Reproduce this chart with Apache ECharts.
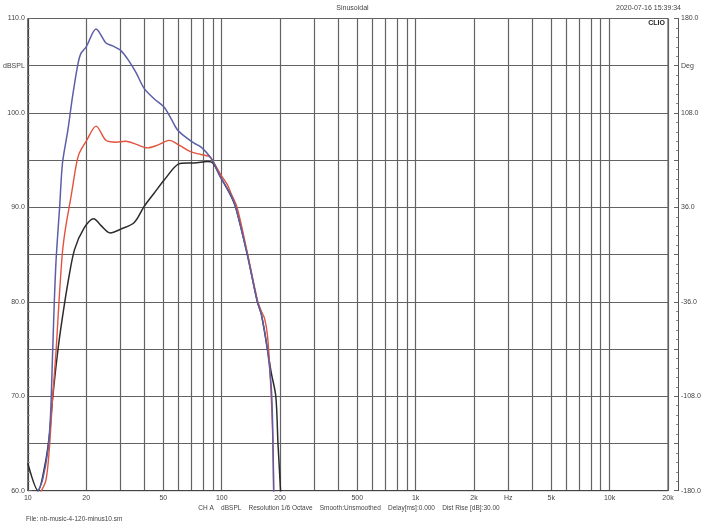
<!DOCTYPE html>
<html>
<head>
<meta charset="utf-8">
<script src="https://cdn.jsdelivr.net/npm/echarts@6/dist/echarts.min.js"></script>
<style>
html,body{margin:0;padding:0;background:#fff;}
#chart{width:705px;height:528px;}
</style>
</head>
<body>
<div id="chart"></div>
<script>
// ---- data ----
const blueFreq = [11.2,11.9,12.7,13.1,13.4,13.7,14.0,14.6,15.1,16.1,17.0,18.1,18.8,20,22.5,25.3,27.4,30.2,33,36.1,39.8,44.8,50.5,54.8,59.2,66.5,72,78,86,89.5,98.6,111,118,135.5,152.7,160,172,180,183,185,186];
const blueDb   = [59.8,61.1,64.3,68,74,80,84.5,90.1,94.7,98.2,101.7,105.1,106.3,107,108.9,107.4,107.1,106.6,105.6,104.3,102.6,101.5,100.6,99.4,98.2,97.3,96.8,96.4,95.5,95.0,93.2,91.4,90,85,80,78.7,75,71,67,61,55];

const redFreq = [11.6,12.4,12.9,13.4,14.0,14.5,15.1,15.7,16.7,17.7,18.4,20,22.5,25.3,28.4,32,36,41.4,46.7,53.6,60.3,69,78,86,89.5,98.6,107,111,120,135.5,152.7,160,166,172,178,183,186];
const redDb   = [59.8,61.1,64.3,69.6,74.9,80.2,85.3,88.0,91.1,94.3,95.7,97.0,98.6,97.1,96.9,97.0,96.7,96.3,96.6,97.1,96.6,95.9,95.6,95.4,95.0,93.5,92.4,91.6,90.0,85.2,80.2,79.0,78.3,76.5,72,66,58];

const blackFreq = [10,11.3,12.2,12.9,13.4,14.3,15.1,16.1,17.4,19.5,21.9,23.8,26.6,30.2,35.4,39.8,44.8,50.5,60,66.5,72,84.3,90,98.6,111,118,135.5,152.7,160,172,180,190,195,201,203];
const blackDb   = [62.9,60.0,62.5,65.7,69.6,74.9,78.4,82.0,85.5,87.8,88.8,88.1,87.3,87.7,88.4,90.1,91.5,92.9,94.6,94.7,94.7,94.85,94.7,93.2,91.3,90,85,80,78.7,75,72.5,70,65,60,57];

const gridFreqs = [10,20,30,40,50,60,70,80,90,100,200,300,400,500,600,700,800,900,1000,2000,3000,4000,5000,6000,7000,8000,9000,10000,20000];
const xLabelFreqs = [10,20,50,100,200,500,1000,2000,3000,5000,10000,20000];
const xLabelTexts = ['10','20','50','100','200','500','1k','2k','Hz','5k','10k','20k'];

const leftLabels = {110:'110.0',105:'dBSPL',100:'100.0',90:'90.0',80:'80.0',70:'70.0',60:'60.0'};
const rightLabels = {110:'180.0',105:'Deg',100:'108.0',90:'36.0',80:'-36.0',70:'-108.0',60:'-180.0'};

const titleText = 'Sinusoidal';
const dateText = '2020-07-16 15:39:34';
const infoText = 'CH A    dBSPL    Resolution 1/6 Octave    Smooth:Unsmoothed    Delay[ms]:0.000    Dist Rise [dB]:30.00';
const fileText = 'File: nb-music-4-120-minus10.sm';

const pair = (fs, ds) => fs.map((f, i) => [f, ds[i]]);
const FONT = 'Liberation Sans';
const TXT = '#444';
const GRID = '#626262';

const chart = echarts.init(document.getElementById('chart'), null, {renderer: 'canvas'});
chart.setOption({
  animation: false,
  backgroundColor: '#fff',
  textStyle: {fontFamily: FONT},
  grid: {left: 27, right: 37, top: 18.5, bottom: 37.3, show: true, borderColor: '#444', borderWidth: 1, containLabel: false},
  graphic: [
    {type: 'text', left: 'center', top: 5, style: {text: titleText, font: '7px "Liberation Sans"', fill: TXT}},
    {type: 'text', right: 24, top: 5, style: {text: dateText, font: '7px "Liberation Sans"', fill: TXT}},
    {type: 'text', right: 40, top: 20, style: {text: 'CLIO', font: 'bold 7px "Liberation Sans"', fill: '#222'}},
    {type: 'text', x: 349, y: 505, style: {text: infoText, font: '6.5px "Liberation Sans"', fill: TXT, align: 'center'}},
    {type: 'text', x: 26, y: 516, style: {text: fileText, font: '6.5px "Liberation Sans"', fill: TXT}}
  ],
  xAxis: {
    type: 'log', logBase: 10, min: 10, max: 20000,
    axisLine: {show: true, lineStyle: {color: '#444'}},
    axisTick: {show: false, customValues: gridFreqs},
    splitLine: {show: true, lineStyle: {color: GRID, width: 1.2}},
    minorTick: {show: false}, minorSplitLine: {show: false},
    axisLabel: {
      customValues: xLabelFreqs, fontSize: 7, color: TXT, margin: 4, fontFamily: FONT,
      formatter: v => { const i = xLabelFreqs.findIndex(f => Math.abs(f - v) / f < 1e-6); return i >= 0 ? xLabelTexts[i] : ''; }
    }
  },
  yAxis: [
    {
      type: 'value', min: 60, max: 110, interval: 5, position: 'left',
      axisLine: {show: true, lineStyle: {color: '#444'}},
      axisTick: {show: true, inside: true, length: 4, lineStyle: {color: '#666'}},
      minorTick: {show: true, splitNumber: 5, length: 2, lineStyle: {color: '#888'}},
      splitLine: {show: true, lineStyle: {color: GRID, width: 1.2}},
      axisLabel: {fontSize: 7, color: TXT, margin: 3, fontFamily: FONT, formatter: v => leftLabels[v] || ''}
    },
    {
      type: 'value', min: 60, max: 110, interval: 5, position: 'right', offset: 10,
      axisLine: {show: true, lineStyle: {color: '#555'}},
      axisTick: {show: true, inside: true, length: 4, lineStyle: {color: '#666'}},
      minorTick: {show: true, splitNumber: 5, length: 2, lineStyle: {color: '#888'}},
      splitLine: {show: false},
      axisLabel: {fontSize: 7, color: TXT, margin: 3, fontFamily: FONT, formatter: v => rightLabels[v] || ''}
    }
  ],
  series: [
    {name: 'black', type: 'line', data: pair(blackFreq, blackDb), showSymbol: false, smooth: 0.3, clip: true,
     lineStyle: {color: '#2b2b2b', width: 1.5}, itemStyle: {color: '#2b2b2b'}},
    {name: 'red', type: 'line', data: pair(redFreq, redDb), showSymbol: false, smooth: 0.3, clip: true,
     lineStyle: {color: '#e2533d', width: 1.4}, itemStyle: {color: '#e2533d'}},
    {name: 'blue', type: 'line', data: pair(blueFreq, blueDb), showSymbol: false, smooth: 0.3, clip: true,
     lineStyle: {color: '#5c5ea8', width: 1.5}, itemStyle: {color: '#5c5ea8'}}
  ]
});
</script>
</body>
</html>
